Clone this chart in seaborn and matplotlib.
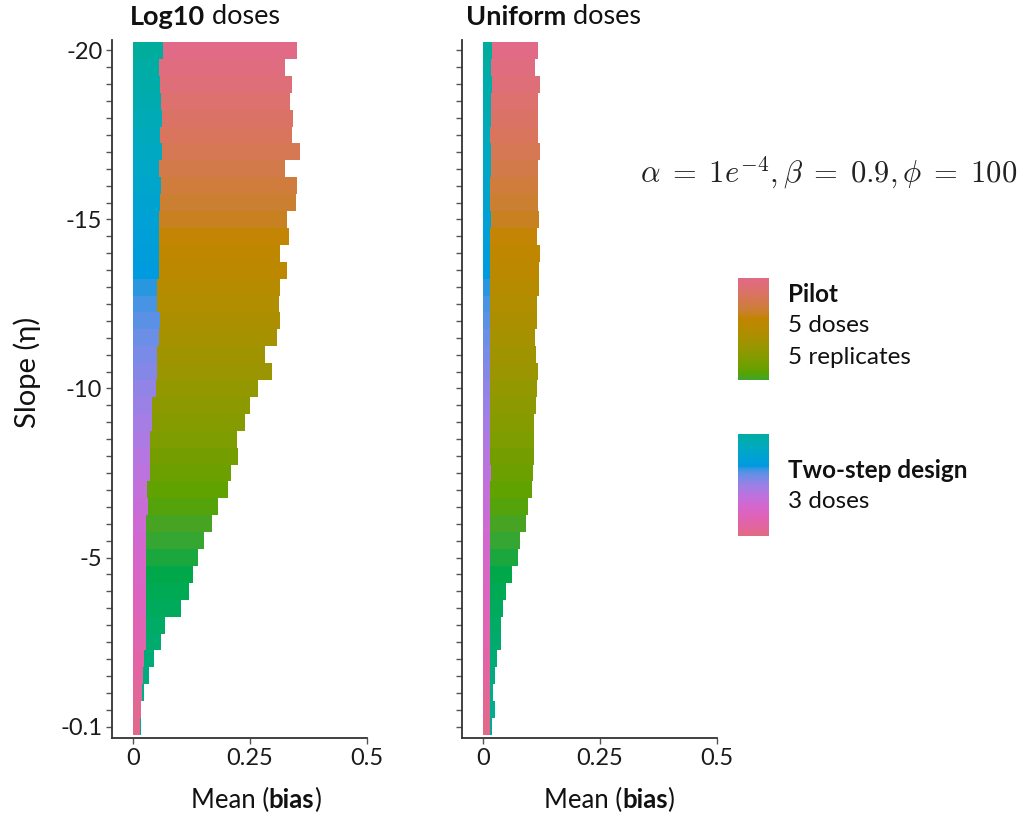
import numpy as np
import pandas as pd
import matplotlib
matplotlib.use("Agg")
import matplotlib.pyplot as plt
import seaborn as sns

# ---------------- data ----------------
slopes = ["-20", "-19.5", "-19", "-18.5", "-18", "-17.5", "-17", "-16.5", "-16", "-15.5",
          "-15", "-14.5", "-14", "-13.5", "-13", "-12.5", "-12", "-11.5", "-11", "-10.5",
          "-10", "-9.5", "-9", "-8.5", "-8", "-7.5", "-7", "-6.5", "-6", "-5.5",
          "-5", "-4.5", "-4", "-3.5", "-3", "-2.5", "-2", "-1.5", "-1", "-0.5", "-0.1"]

log10_pilot = [0.351, 0.325, 0.339, 0.335, 0.342, 0.339, 0.356, 0.325, 0.351, 0.348,
               0.328, 0.333, 0.315, 0.329, 0.315, 0.311, 0.315, 0.307, 0.283, 0.297,
               0.267, 0.250, 0.239, 0.222, 0.224, 0.210, 0.203, 0.182, 0.168, 0.152,
               0.138, 0.129, 0.119, 0.103, 0.068, 0.059, 0.045, 0.035, 0.024, 0.012, 0.018]
log10_twostep = [0.065, 0.055, 0.057, 0.059, 0.061, 0.057, 0.061, 0.055, 0.059, 0.057,
                 0.055, 0.055, 0.055, 0.056, 0.052, 0.052, 0.057, 0.055, 0.051, 0.051,
                 0.049, 0.041, 0.041, 0.036, 0.037, 0.037, 0.029, 0.031, 0.027, 0.027,
                 0.027, 0.027, 0.028, 0.028, 0.027, 0.028, 0.024, 0.022, 0.019, 0.017, 0.016]

uniform_pilot = [0.118, 0.112, 0.122, 0.118, 0.118, 0.118, 0.122, 0.118, 0.118, 0.118,
                 0.120, 0.115, 0.122, 0.120, 0.120, 0.115, 0.115, 0.111, 0.113, 0.117,
                 0.115, 0.113, 0.110, 0.108, 0.108, 0.106, 0.104, 0.096, 0.091, 0.079,
                 0.074, 0.062, 0.049, 0.042, 0.0375, 0.0375, 0.030, 0.025, 0.021, 0.025, 0.019]
uniform_twostep = [0.020, 0.018, 0.020, 0.018, 0.018, 0.015, 0.018, 0.018, 0.015, 0.016,
                   0.018, 0.014, 0.016, 0.014, 0.014, 0.014, 0.014, 0.014, 0.014, 0.014,
                   0.014, 0.014, 0.014, 0.014, 0.014, 0.018, 0.014, 0.014, 0.014, 0.014,
                   0.015, 0.014, 0.015, 0.014, 0.015, 0.016, 0.015, 0.014, 0.016, 0.014, 0.014]

ytick_labels = {"-20": "-20", "-15": "-15", "-10": "-10", "-5": "-5", "-0.1": "-0.1"}
xtick_values = [0, 0.25, 0.5]
xtick_labels = ["0", "0.25", "0.5"]


# ---------------- colours (HCL hue wheel) ----------------
def hcl_to_hex(h, c=80.0, l=60.0):
    hr = np.deg2rad(h)
    U, V = c * np.cos(hr), c * np.sin(hr)
    Xn, Yn, Zn = 95.047, 100.0, 108.883
    Y = Yn * (((l + 16) / 116) ** 3 if l > 8 else l / 903.3)
    un = 4 * Xn / (Xn + 15 * Yn + 3 * Zn)
    vn = 9 * Yn / (Xn + 15 * Yn + 3 * Zn)
    u = U / (13 * l) + un
    v = V / (13 * l) + vn
    X = 9.0 * Y * u / (4 * v)
    Z = -X / 3 - 5 * Y + 3 * Y / v
    M = np.array([[3.240479, -1.537150, -0.498535],
                  [-0.969256, 1.875992, 0.041556],
                  [0.055648, -0.204043, 1.057311]])
    rgb = M @ (np.array([X, Y, Z]) / 100.0)
    rgb = np.where(rgb <= 0.0031308, 12.92 * rgb,
                   1.055 * np.power(np.clip(rgb, 0, None), 1 / 2.4) - 0.055)
    rgb = np.clip(rgb, 0, 1)
    return matplotlib.colors.to_hex(rgb)


n = len(slopes)
step = 360.0 / (2 * n)
pilot_colors = [hcl_to_hex(i * step) for i in range(n)]
twostep_colors = [hcl_to_hex(180 + 2 + i * step) for i in range(n)]

# ---------------- figure ----------------
sns.set_theme(style="white")
FONT = ["Lato", "DejaVu Sans"]
plt.rcParams["font.family"] = FONT
plt.rcParams["mathtext.fontset"] = "cm"

W, H = 1019, 818
fig = plt.figure(figsize=(W / 100, H / 100), dpi=100)
fig.patch.set_facecolor("white")

axes = []
for left_px, pilot, twostep in [(112, log10_pilot, log10_twostep),
                                (462, uniform_pilot, uniform_twostep)]:
    ax = fig.add_axes([left_px / W, (H - 738) / H, 255 / W, 698 / H])
    df_p = pd.DataFrame({"slope": slopes, "bias": pilot})
    df_t = pd.DataFrame({"slope": slopes, "bias": twostep})
    sns.barplot(data=df_p, x="bias", y="slope", hue="slope", order=slopes, hue_order=slopes,
                palette=pilot_colors, dodge=False, width=1.0, saturation=1, linewidth=0,
                errorbar=None, legend=False, orient="h", ax=ax)
    sns.barplot(data=df_t, x="bias", y="slope", hue="slope", order=slopes, hue_order=slopes,
                palette=twostep_colors, dodge=False, width=1.0, saturation=1, linewidth=0,
                errorbar=None, legend=False, orient="h", ax=ax)
    ax.set_xlim(-0.0449, 0.5)
    ax.set_ylim(n - 1 + 0.68, -0.62)
    ax.set_xticks(xtick_values)
    ax.set_xticklabels(xtick_labels, fontsize=17, color="#1a1a1a")
    ax.set_yticks(range(n))
    ax.set_xlabel("")
    ax.set_ylabel("")
    for s in ["top", "right"]:
        ax.spines[s].set_visible(False)
    for s in ["left", "bottom"]:
        ax.spines[s].set_color("#333333")
        ax.spines[s].set_linewidth(1.3)
    ax.tick_params(axis="both", which="both", direction="out", length=4, width=1.0,
                   color="#555555", left=True, bottom=True, pad=3)
    ax.set_facecolor("white")
    axes.append(ax)

axes[0].set_yticklabels([ytick_labels.get(s, "") for s in slopes], fontsize=17, color="#1a1a1a")
axes[1].set_yticklabels(["" for s in slopes])

renderer = fig.canvas.get_renderer()


def rich_text(parts, x_px, y_px, size, ha="left"):
    """parts: list of (text, weight). x_px,y_px in pixel coords from top-left."""
    widths = []
    for txt, wgt in parts:
        t = fig.text(0, 0, txt, fontsize=size, fontweight=wgt, family=FONT)
        bb = t.get_window_extent(renderer)
        widths.append(bb.width)
        t.remove()
    total = sum(widths)
    x = x_px - (total / 2 if ha == "center" else 0)
    for (txt, wgt), w in zip(parts, widths):
        fig.text(x / W, 1 - y_px / H, txt, fontsize=size, fontweight=wgt, family=FONT,
                 va="center", ha="left", color="#111111")
        x += w


# titles
rich_text([("Log10", "bold"), (" doses", "normal")], 130, 17, 19.5)
rich_text([("Uniform", "bold"), (" doses", "normal")], 466, 17, 19.5)

# x labels
rich_text([("Mean (", "normal"), ("bias", "bold"), (")", "normal")], 256, 800, 18.5, ha="center")
rich_text([("Mean (", "normal"), ("bias", "bold"), (")", "normal")], 609, 800, 18.5, ha="center")

# y label
fig.text(27 / W, 1 - 372 / H, "Slope (η)", rotation=90, fontsize=21, family=FONT,
         va="center", ha="center", color="#111111")

# equation
fig.text(829 / W, 1 - 173 / H, r"$\alpha\;=\;1e^{-4}, \beta\;=\;0.9, \phi\;=\;100$",
         fontsize=22, va="center", ha="center", color="#222222")

# gradient legends
grad_p = np.array([matplotlib.colors.to_rgb(hcl_to_hex(h)) for h in np.linspace(0, 125, 100)])
grad_t = np.array([matplotlib.colors.to_rgb(hcl_to_hex(h)) for h in np.linspace(185, 362, 100)])
for top_px, grad in [(278, grad_p), (434, grad_t)]:
    lax = fig.add_axes([738 / W, 1 - (top_px + 102) / H, 31 / W, 102 / H])
    lax.imshow(grad[:, None, :], aspect="auto", interpolation="bilinear")
    lax.set_axis_off()

rich_text([("Pilot", "bold")], 788, 294, 17.5)
rich_text([("5 doses", "normal")], 788, 326, 17.5)
rich_text([("5 replicates", "normal")], 788, 358, 17.5)
rich_text([("Two-step design", "bold")], 788, 470, 17.5)
rich_text([("3 doses", "normal")], 788, 502, 17.5)

fig.savefig("out.png", dpi=100, facecolor="white")
